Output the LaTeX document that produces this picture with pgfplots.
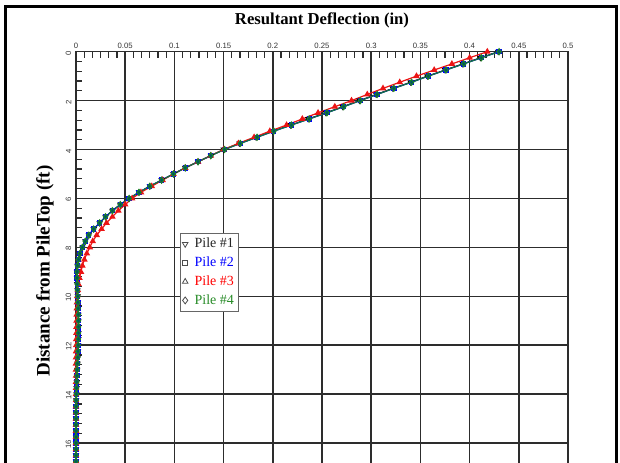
\documentclass[border=0pt]{standalone}
\usepackage{pgfplots}
\pgfplotsset{compat=1.18}
\usepackage{pgfplotstable}
\usepackage{fontspec}
\setmainfont{Liberation Serif}
\setsansfont{Liberation Sans}
\definecolor{gline}{RGB}{20,115,70}
\definecolor{gdraw}{RGB}{30,130,40}
\definecolor{gfill}{RGB}{0,90,90}
\definecolor{rline}{RGB}{235,20,20}
\definecolor{gridc}{RGB}{45,45,45}
\definecolor{legg}{RGB}{40,140,40}

\pgfplotstableread{
z p1 p2 p3 p4
0 0.429 0.430 0.418 0.430
0.25 0.411 0.412 0.400 0.412
0.5 0.393 0.394 0.382 0.394
0.75 0.375 0.376 0.364 0.376
1 0.357 0.358 0.346 0.358
1.25 0.340 0.341 0.329 0.341
1.5 0.322 0.323 0.312 0.323
1.75 0.305 0.306 0.296 0.306
2 0.288 0.289 0.280 0.289
2.25 0.271 0.272 0.263 0.272
2.5 0.254 0.255 0.246 0.255
2.75 0.236 0.237 0.230 0.237
3 0.218 0.219 0.214 0.219
3.25 0.200 0.201 0.197 0.201
3.5 0.183 0.184 0.181 0.184
3.75 0.166 0.167 0.165 0.167
4 0.150 0.151 0.150 0.151
4.25 0.137 0.137 0.137 0.137
4.5 0.124 0.124 0.124 0.124
4.75 0.111 0.111 0.111 0.111
5 0.099 0.099 0.099 0.099
5.25 0.087 0.087 0.088 0.087
5.5 0.075 0.075 0.077 0.075
5.75 0.064 0.064 0.066 0.064
6 0.054 0.054 0.057 0.054
6.25 0.045 0.045 0.050 0.045
6.5 0.037 0.037 0.043 0.037
6.75 0.030 0.030 0.037 0.030
7 0.024 0.024 0.031 0.024
7.25 0.018 0.018 0.026 0.018
7.5 0.013 0.013 0.021 0.013
7.75 0.0095 0.0095 0.017 0.0095
8 0.0065 0.0065 0.014 0.0065
8.25 0.004 0.004 0.011 0.004
8.5 0.0025 0.0025 0.0085 0.0025
8.75 0.0015 0.0015 0.0065 0.0015
9 0.0010 0.0010 0.0050 0.0010
9.25 0.0010 0.0010 0.0035 0.0010
9.5 0.0012 0.0012 0.0025 0.0012
9.75 0.0015 0.0015 0.0018 0.0015
10 0.0018 0.0018 0.0012 0.0018
10.25 0.0020 0.0020 0.0010 0.0020
10.5 0.0022 0.0022 0.0008 0.0022
10.75 0.0024 0.0024 0.0007 0.0024
11 0.0025 0.0025 0.0006 0.0025
11.25 0.0025 0.0025 0.0005 0.0025
11.5 0.0025 0.0025 0.0004 0.0025
11.75 0.0024 0.0024 0.0003 0.0024
12 0.0022 0.0022 0.0002 0.0022
12.25 0.0020 0.0020 0.0001 0.0020
12.5 0.0018 0.0018 0.0000 0.0018
12.75 0.0015 0.0015 0.0000 0.0015
13 0.0012 0.0012 0.0000 0.0012
13.25 0.0010 0.0010 0.0000 0.0010
13.5 0.0008 0.0008 0.0000 0.0008
13.75 0.0006 0.0006 0.0000 0.0006
14 0.0004 0.0004 0.0000 0.0004
14.25 0.0002 0.0002 0.0000 0.0002
14.5 0.0001 0.0001 0.0000 0.0001
14.75 0.0000 0.0000 0.0000 0.0000
15 0.0000 0.0000 0.0000 0.0000
15.25 0.0000 0.0000 0.0000 0.0000
15.5 0.0000 0.0000 0.0000 0.0000
15.75 0.0000 0.0000 0.0000 0.0000
16 0.0000 0.0000 0.0000 0.0000
16.25 0.0000 0.0000 0.0000 0.0000
16.5 0.0000 0.0000 0.0000 0.0000
16.75 0.0000 0.0000 0.0000 0.0000
}\piledata

\begin{document}
\begin{tikzpicture}
\path[use as bounding box] (0,0) rectangle (465pt,347.25pt);
\begin{axis}[
  at={(241.5pt,152.55pt)}, anchor=center,
  scale only axis, width=369pt, height=311.9pt,
  xmin=0, xmax=0.5, ymin=0, ymax=17,
  y dir=reverse,
  xtick={0,0.05,...,0.5},
  ytick={0,2,...,16},
  xticklabels={0,0.05,0.1,0.15,0.2,0.25,0.3,0.35,0.4,0.45,0.5},
  yticklabels={0,2,4,6,8,10,12,14,16},
  xtick pos=upper, xticklabel pos=upper,
  ytick pos=left, yticklabel pos=left,
  minor x tick num=5, minor y tick num=4,
  tick align=inside,
  major tick length=0pt, minor tick length=4.5pt,
  minor tick style={gridc, line width=0.9pt},
  grid=major,
  major grid style={gridc, line width=1.1pt},
  axis line style={gridc, line width=0.9pt},
  tick label style={font=\sffamily\fontsize{5.8}{6}\selectfont, text=black!80},
  xticklabel style={yshift=-1pt},
  yticklabel style={rotate=90, anchor=south, xshift=-1pt},
  legend style={at={(axis cs:0.1057,7.42)}, anchor=north west,
    font=\fontsize{10.5}{12}\selectfont, draw=black!60, line width=0.6pt,
    inner sep=1.5pt, row sep=1.3pt, legend cell align=left,
    /tikz/every odd column/.append style={column sep=3pt}},
  legend image code/.code={\draw[#1] plot coordinates {(0.14cm,0cm)};},
]
\addplot[black, line width=0.8pt, mark=triangle*, mark size=2pt, mark options={rotate=180, fill=black}, forget plot] table[x=p1, y=z] {\piledata};
\addplot[blue, line width=0.8pt, mark=square*, mark size=1.6pt, mark options={fill=blue}, forget plot] table[x=p2, y=z] {\piledata};
\addplot[rline, line width=0.9pt, mark=triangle*, mark size=2pt, mark options={fill=rline, draw=rline}, forget plot] table[x=p3, y=z] {\piledata};
\addplot[gline, line width=0.9pt, mark=diamond*, mark size=2.3pt, mark options={fill=gfill, draw=gdraw, line width=0.7pt}, forget plot] table[x=p4, y=z] {\piledata};
\addlegendimage{only marks, mark=triangle, mark size=2.4pt, mark options={rotate=180, draw=black!70, line width=0.6pt}}
\addlegendentry[text=black!85]{Pile \#1}
\addlegendimage{only marks, mark=square, mark size=1.9pt, mark options={draw=black!70, line width=0.6pt}}
\addlegendentry[text=blue]{Pile \#2}
\addlegendimage{only marks, mark=triangle, mark size=2.4pt, mark options={draw=black!70, line width=0.6pt}}
\addlegendentry[text=red]{Pile \#3}
\addlegendimage{only marks, mark=diamond, mark size=2.6pt, mark options={draw=black!70, line width=0.6pt}}
\addlegendentry[text=legg]{Pile \#4}
\end{axis}
\node[font=\bfseries\fontsize{12.5}{14}\selectfont] at (241.5pt,332.25pt) {Resultant Deflection (in)};
\node[font=\bfseries\fontsize{14.3}{16}\selectfont, rotate=90] at (33.75pt,144pt) {Distance from PileTop (ft)};
\draw[black, line width=2.2pt] (3.9pt,-5pt) -- (3.9pt,342.2pt) -- (462.6pt,342.2pt) -- (462.6pt,-5pt);
\end{tikzpicture}
\end{document}
